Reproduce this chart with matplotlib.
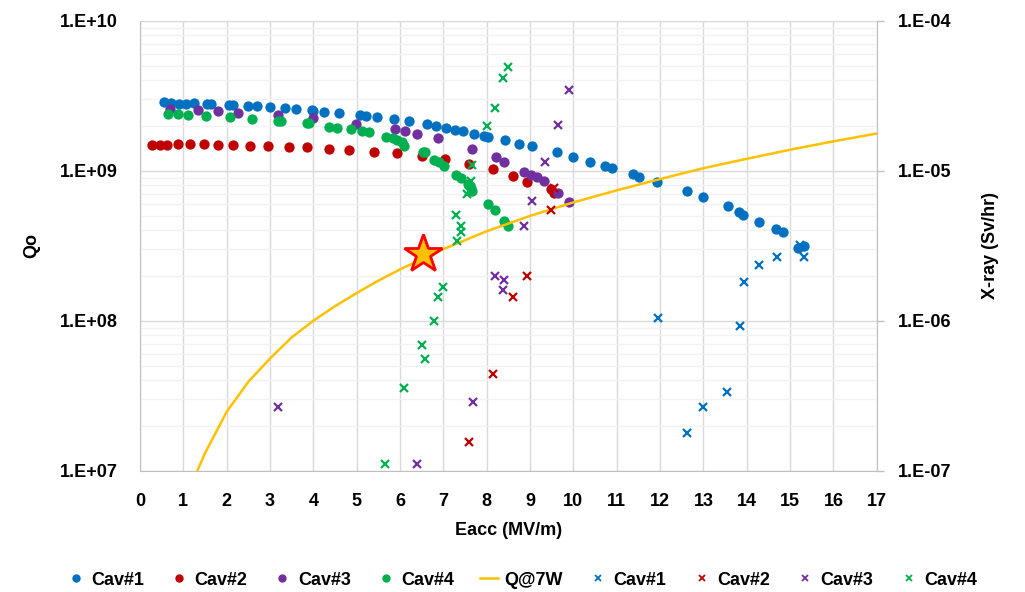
import numpy as np
import matplotlib
matplotlib.use('Agg')
import matplotlib.pyplot as plt
from matplotlib.lines import Line2D
from matplotlib.ticker import FixedLocator, FuncFormatter, LogLocator, NullFormatter

plt.rcParams['font.family'] = ['Liberation Sans', 'DejaVu Sans']
plt.rcParams['font.weight'] = 'bold'

# Qo data (left axis)
cav1_E = [0.56, 0.72, 0.91, 1.06, 1.25, 1.55, 1.64, 2.05, 2.15, 2.50, 2.71, 3.01, 3.35, 3.60, 3.97,
          4.00, 4.24, 4.60, 5.08, 5.21, 5.46, 5.87, 6.21, 6.62, 6.83, 7.06, 7.27, 7.46, 7.71, 7.94,
          8.02, 8.42, 8.74, 9.04, 9.61, 10.0, 10.39, 10.72, 10.90, 11.37, 11.52, 11.94, 12.61, 12.98,
          13.56, 13.81, 13.92, 14.29, 14.67, 14.83, 15.19, 15.31]
cav1_Q = [2.85, 2.81, 2.80, 2.80, 2.82, 2.78, 2.78, 2.75, 2.76, 2.70, 2.70, 2.64, 2.62, 2.58, 2.54,
          2.52, 2.48, 2.42, 2.35, 2.31, 2.27, 2.21, 2.13, 2.05, 2.00, 1.93, 1.88, 1.83, 1.76, 1.71,
          1.69, 1.60, 1.50, 1.47, 1.33, 1.23, 1.14, 1.07, 1.04, 0.95, 0.91, 0.836, 0.728, 0.664,
          0.584, 0.533, 0.507, 0.457, 0.408, 0.388, 0.303, 0.316]
cav2_E = [0.27, 0.45, 0.62, 0.87, 1.16, 1.47, 1.81, 2.15, 2.54, 2.96, 3.43, 3.85, 4.35, 4.83, 5.40,
          5.94, 6.50, 7.04, 7.60, 8.15, 8.60, 8.94, 9.48, 9.56]
cav2_Q = [1.48, 1.49, 1.49, 1.50, 1.50, 1.50, 1.49, 1.48, 1.47, 1.46, 1.45, 1.43, 1.40, 1.38, 1.34,
          1.31, 1.25, 1.19, 1.11, 1.03, 0.916, 0.845, 0.755, 0.71]
cav3_E = [0.70, 1.33, 1.79, 2.27, 3.18, 3.98, 4.98, 5.88, 6.11, 6.38, 6.87, 7.67, 8.21, 8.40, 8.87,
          9.02, 9.17, 9.33, 9.64, 9.90]
cav3_Q = [2.58, 2.54, 2.49, 2.42, 2.35, 2.23, 2.05, 1.89, 1.83, 1.76, 1.64, 1.39, 1.23, 1.14, 0.985,
          0.94, 0.903, 0.849, 0.706, 0.621]
cav4_E = [0.64, 0.88, 1.11, 1.52, 2.08, 2.58, 3.18, 3.25, 3.85, 3.91, 4.37, 4.54, 4.87, 5.12, 5.28,
          5.67, 5.83, 5.94, 6.04, 6.10, 6.52, 6.57, 6.79, 6.90, 7.02, 7.29, 7.40, 7.56, 7.64, 7.67,
          8.02, 8.20, 8.39, 8.50]
cav4_Q = [2.39, 2.38, 2.35, 2.32, 2.29, 2.22, 2.13, 2.14, 2.07, 2.07, 1.97, 1.94, 1.89, 1.83, 1.80,
          1.69, 1.65, 1.61, 1.55, 1.47, 1.33, 1.34, 1.18, 1.14, 1.08, 0.93, 0.89, 0.81, 0.767, 0.736,
          0.60, 0.547, 0.46, 0.43]

# Q at 7 W line
q7w_E = [1, 1.5, 2, 2.5, 3, 3.5, 4, 4.5, 5, 5.5, 6, 7, 8, 9, 10, 11, 12, 13, 14, 15, 16, 17]
q7w_Q = [6.1e6, 1.31e7, 2.47e7, 3.92e7, 5.6e7, 7.74e7, 1.0e8, 1.25e8, 1.53e8, 1.85e8, 2.2e8, 3.0e8,
         3.95e8, 5.0e8, 6.15e8, 7.4e8, 8.8e8, 1.04e9, 1.2e9, 1.38e9, 1.57e9, 1.77e9]
star_E = [6.54]
star_Q = [2.78e8]

# X-ray data (right axis, Sv/hr)
xr1_E = [11.96, 12.61, 12.99, 13.54, 13.84, 13.94, 14.28, 14.70, 15.23, 15.33]
xr1_D = [1.04e-6, 1.78e-7, 2.64e-7, 3.33e-7, 9.27e-7, 1.82e-6, 2.36e-6, 2.64e-6, 3.2e-6, 2.67e-6]
xr2_E = [7.58, 8.14, 8.60, 8.94, 9.48, 9.56]
xr2_D = [1.56e-7, 4.41e-7, 1.43e-6, 2.0e-6, 5.47e-6, 7.67e-6]
xr3_E = [3.18, 6.39, 7.69, 8.20, 8.37, 8.40, 8.87, 9.04, 9.34, 9.65, 9.90]
xr3_D = [2.67e-7, 1.11e-7, 2.88e-7, 2.0e-6, 1.61e-6, 1.88e-6, 4.25e-6, 6.25e-6, 1.15e-5, 2.03e-5, 3.45e-5]
xr4_E = [5.66, 6.10, 6.50, 6.57, 6.79, 6.88, 7.00, 7.31, 7.40, 7.40, 7.29, 7.54, 7.60, 7.64, 7.65,
         8.00, 8.19, 8.38, 8.50]
xr4_D = [1.11e-7, 3.56e-7, 6.9e-7, 5.55e-7, 1.0e-6, 1.43e-6, 1.67e-6, 3.41e-6, 3.92e-6, 4.3e-6,
         5.07e-6, 6.99e-6, 7.36e-6, 8.48e-6, 1.1e-5, 2.0e-5, 2.62e-5, 4.15e-5, 4.93e-5]

blue = '#0070C0'
red = '#C00000'
purple = '#7030A0'
green = '#00B050'
gold = '#FFC000'

def sci(v, p):
    return '1.E{:+03d}'.format(int(round(np.log10(v))))

fig = plt.figure(figsize=(10.25, 5.92), dpi=100)
ax = fig.add_axes([0.1366, 0.2049, 0.7188, 0.7601])

ms = 55
ax.scatter(cav1_E, np.array(cav1_Q) * 1e9, s=ms, color=blue, zorder=3, linewidths=0)
ax.scatter(cav2_E, np.array(cav2_Q) * 1e9, s=ms, color=red, zorder=3, linewidths=0)
ax.scatter(cav3_E, np.array(cav3_Q) * 1e9, s=ms, color=purple, zorder=3, linewidths=0)
ax.scatter(cav4_E, np.array(cav4_Q) * 1e9, s=ms, color=green, zorder=3, linewidths=0)
ax.plot(q7w_E, q7w_Q, color=gold, lw=1.8, zorder=4)
ax.plot(star_E, star_Q, marker='*', ms=29, mfc=gold, mec='#FF0000', mew=2, ls='none', zorder=5)

ax.set_yscale('log')
ax.set_xlim(0, 17)
ax.set_ylim(1e7, 1e10)
ax.xaxis.set_major_locator(FixedLocator(range(0, 18)))
ax.yaxis.set_major_locator(FixedLocator([1e7, 1e8, 1e9, 1e10]))
ax.yaxis.set_minor_locator(LogLocator(base=10, subs=np.arange(2, 10)))
ax.yaxis.set_minor_formatter(NullFormatter())
ax.yaxis.set_major_formatter(FuncFormatter(sci))
ax.grid(True, which='major', color='#d9d9d9', lw=1.0)
ax.grid(True, which='minor', axis='y', color='#f2f2f2', lw=1.0)
ax.set_axisbelow(True)
ax.tick_params(axis='both', which='both', length=0, labelsize=13)
ax.tick_params(axis='y', pad=16)
ax.tick_params(axis='x', pad=16)
for s in ['left', 'bottom', 'right']:
    ax.spines[s].set_color('#bfbfbf')
ax.spines['top'].set_visible(False)
ax.set_xlabel('Eacc (MV/m)', fontsize=13, fontweight='bold', labelpad=9)
ax.set_ylabel('Qo', fontsize=13, fontweight='bold', labelpad=14)

ax2 = ax.twinx()
mx = 6
ax2.plot(xr1_E, xr1_D, ls='none', marker='x', ms=mx, mew=1.6, color=blue, zorder=3)
ax2.plot(xr2_E, xr2_D, ls='none', marker='x', ms=mx, mew=1.6, color=red, zorder=3)
ax2.plot(xr3_E, xr3_D, ls='none', marker='x', ms=mx, mew=1.6, color=purple, zorder=3)
ax2.plot(xr4_E, xr4_D, ls='none', marker='x', ms=mx, mew=1.6, color=green, zorder=3)
ax2.set_yscale('log')
ax2.set_ylim(1e-7, 1e-4)
ax2.yaxis.set_major_locator(FixedLocator([1e-7, 1e-6, 1e-5, 1e-4]))
ax2.yaxis.set_minor_locator(FixedLocator([]))
ax2.yaxis.set_major_formatter(FuncFormatter(sci))
ax2.tick_params(axis='y', length=5, width=1, color='#bfbfbf', labelsize=13, pad=10)
for s in ax2.spines.values():
    s.set_visible(False)
ax2.set_ylabel('X-ray (Sv/hr)', fontsize=13, fontweight='bold', labelpad=22)

handles = [
    Line2D([], [], ls='none', marker='o', ms=5, color=blue, label='Cav#1'),
    Line2D([], [], ls='none', marker='o', ms=5, color=red, label='Cav#2'),
    Line2D([], [], ls='none', marker='o', ms=5, color=purple, label='Cav#3'),
    Line2D([], [], ls='none', marker='o', ms=5, color=green, label='Cav#4'),
    Line2D([], [], color=gold, lw=1.8, label='Q@7W'),
    Line2D([], [], ls='none', marker='x', ms=5, mew=1.3, color=blue, label='Cav#1'),
    Line2D([], [], ls='none', marker='x', ms=5, mew=1.3, color=red, label='Cav#2'),
    Line2D([], [], ls='none', marker='x', ms=5, mew=1.3, color=purple, label='Cav#3'),
    Line2D([], [], ls='none', marker='x', ms=5, mew=1.3, color=green, label='Cav#4'),
]
fig.legend(handles=handles, loc='lower center', bbox_to_anchor=(0.509, -0.022), ncol=9, frameon=False,
           fontsize=13, handlelength=1.0, handletextpad=0.35, columnspacing=1.45)

fig.savefig('out.png', dpi=100)
